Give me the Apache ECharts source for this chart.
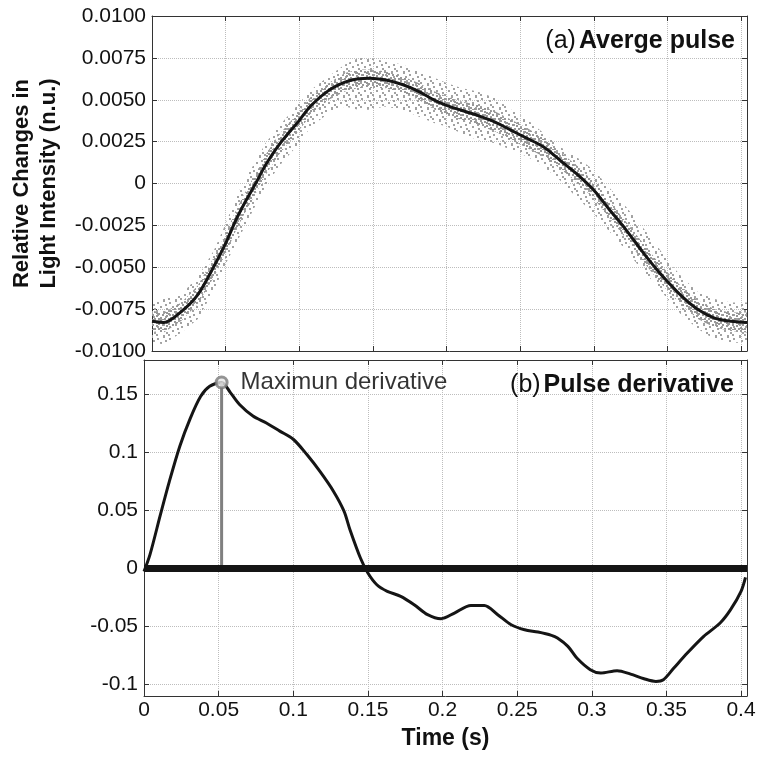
<!DOCTYPE html>
<html><head><meta charset="utf-8">
<script src="https://cdn.jsdelivr.net/npm/echarts@6/dist/echarts.min.js"></script>
<style>html,body{margin:0;padding:0;background:#fff}#c{width:762px;height:757px}</style>
</head><body><div id="c"></div>
<script>
// ---- data ----
const timeTicks = [0, 0.05, 0.1, 0.15, 0.2, 0.25, 0.3, 0.35, 0.4];
const derivTicks = [-0.1, -0.05, 0, 0.05, 0.1, 0.15];

const pulseT = [0, 0.008, 0.02, 0.031, 0.042, 0.05, 0.057, 0.064, 0.071, 0.077, 0.086, 0.1, 0.108, 0.12, 0.131, 0.14, 0.148, 0.158, 0.17, 0.181, 0.192, 0.2, 0.21, 0.221, 0.233, 0.244, 0.255, 0.266, 0.277, 0.288, 0.3, 0.31, 0.322, 0.333, 0.342, 0.35, 0.36, 0.371, 0.382, 0.393, 0.404];
const pulseMean = [-0.00823, -0.0083, -0.00764, -0.00665, -0.00496, -0.00357, -0.00218, -0.00099, 0.0001, 0.00109, 0.00228, 0.00377, 0.00466, 0.00556, 0.00605, 0.00625, 0.00629, 0.00619, 0.00591, 0.0055, 0.00496, 0.00466, 0.00437, 0.00407, 0.00367, 0.00317, 0.00268, 0.00218, 0.00139, 0.0006, -0.0004, -0.00149, -0.00278, -0.00407, -0.00506, -0.00585, -0.00675, -0.00754, -0.00804, -0.00823, -0.0083];
// scatter cloud of raw samples: outer edges and dense core edges
const cloudHi = [-0.0071, -0.0069, -0.0066, -0.0056, -0.004, -0.0024, -0.0008, 0.0004, 0.0014, 0.0024, 0.0034, 0.0048, 0.0056, 0.0064, 0.0071, 0.0075, 0.0075, 0.0073, 0.0071, 0.0067, 0.0063, 0.006, 0.0057, 0.0055, 0.0051, 0.0044, 0.0038, 0.003, 0.0022, 0.0016, 0.0008, -0.0002, -0.0014, -0.0026, -0.0036, -0.0046, -0.0056, -0.0065, -0.0069, -0.0071, -0.0071];
const cloudLo = [-0.0095, -0.0096, -0.0089, -0.0081, -0.0064, -0.0048, -0.0036, -0.0024, -0.0012, -0.0002, 0.001, 0.0024, 0.0034, 0.0042, 0.0046, 0.0044, 0.0044, 0.0046, 0.0044, 0.004, 0.0036, 0.0034, 0.003, 0.0026, 0.0024, 0.002, 0.0016, 0.001, 0.0002, -0.0008, -0.0018, -0.0028, -0.004, -0.0052, -0.006, -0.0069, -0.0079, -0.0087, -0.0093, -0.0095, -0.0095];
const coreHi = [-0.0076, -0.0077, -0.0071, -0.0061, -0.0044, -0.003, -0.0016, -0.0004, 0.0007, 0.0017, 0.0029, 0.0043, 0.0052, 0.006, 0.0066, 0.0068, 0.0068, 0.0067, 0.0064, 0.006, 0.0055, 0.0052, 0.0049, 0.0047, 0.0043, 0.0038, 0.0033, 0.0027, 0.0019, 0.0011, 0.0001, -0.001, -0.0023, -0.0035, -0.0045, -0.0053, -0.0062, -0.007, -0.0075, -0.0077, -0.0077];
const coreLo = [-0.0088, -0.0089, -0.0082, -0.0072, -0.0056, -0.0042, -0.0028, -0.0016, -0.0005, 0.0005, 0.0017, 0.0032, 0.0041, 0.005, 0.0055, 0.0057, 0.0057, 0.0057, 0.0054, 0.005, 0.0044, 0.0041, 0.0038, 0.0035, 0.0031, 0.0026, 0.0021, 0.0016, 0.0009, 0.0001, -0.0009, -0.002, -0.0033, -0.0046, -0.0056, -0.0064, -0.0073, -0.0081, -0.0086, -0.0088, -0.0089];

const derivT = [0, 0.004, 0.011, 0.017, 0.024, 0.031, 0.038, 0.044, 0.052, 0.058, 0.064, 0.073, 0.082, 0.091, 0.1, 0.109, 0.118, 0.127, 0.134, 0.138, 0.145, 0.15, 0.156, 0.163, 0.172, 0.181, 0.19, 0.199, 0.208, 0.219, 0.228, 0.237, 0.246, 0.255, 0.264, 0.273, 0.277, 0.284, 0.29, 0.299, 0.306, 0.317, 0.326, 0.335, 0.343, 0.348, 0.355, 0.364, 0.375, 0.386, 0.393, 0.4, 0.403];
const derivV = [-0.003, 0.0115, 0.046, 0.0747, 0.105, 0.129, 0.148, 0.1566, 0.16, 0.151, 0.141, 0.131, 0.125, 0.118, 0.111, 0.098, 0.083, 0.066, 0.049, 0.033, 0.0086, -0.0043, -0.0144, -0.0201, -0.0244, -0.0316, -0.0402, -0.0437, -0.0388, -0.0322, -0.0322, -0.0402, -0.0489, -0.0532, -0.0552, -0.058, -0.0603, -0.0675, -0.0776, -0.0876, -0.0905, -0.0885, -0.0914, -0.0954, -0.0977, -0.0963, -0.0862, -0.0733, -0.0589, -0.0474, -0.0359, -0.0201, -0.008];

const maxPointT = 0.052;
const maxPointV = 0.16;

const pulseTitle = ['(a)', 'Averge pulse'];
const derivTitle = ['(b)', 'Pulse derivative'];
const maxLabel = 'Maximun derivative';
const yName = 'Relative Changes in\nLight Intensity (n.u.)';
const xName = 'Time (s)';

// ---- chart ----
const FONT = '"Liberation Sans", Arial, Helvetica, sans-serif';
const INK = '#111';
const X_MAX = 0.404;

// dotted texture used to paint the sample cloud (style only)
function dotTile(size, dots, color) {
  const c = document.createElement('canvas');
  c.width = size; c.height = size;
  const g = c.getContext('2d');
  g.fillStyle = color;
  dots.forEach(d => g.fillRect(d[0], d[1], 2, 2));
  return { image: c, repeat: 'repeat' };
}
const outerFill = dotTile(12, [[1, 2], [7, 0], [4, 6], [10, 8], [0, 10], [7, 11], [9, 4]], '#a2a2a2');
const coreFill = dotTile(10, [[0, 0], [4, 1], [8, 3], [2, 4], [6, 5], [0, 7], [4, 8], [8, 8], [2, 9], [6, 2]], '#979797');

function xAxis(gridIndex, position, main) {
  return {
    type: 'value', gridIndex, position, min: 0, max: X_MAX,
    axisLine: { show: true, onZero: false, lineStyle: { color: '#333', width: 1 } },
    axisTick: { show: true, inside: true, length: 5, customValues: timeTicks, lineStyle: { color: '#333' } },
    axisLabel: main ? { show: true, customValues: timeTicks, fontFamily: FONT, fontSize: 21, color: INK, margin: 4,
      formatter: v => String(v) } : { show: false, customValues: timeTicks },
    splitLine: { show: position === 'bottom', lineStyle: { color: '#bdbdbd', type: 'dotted', width: 1 } },
    name: main ? xName : '', nameLocation: 'middle', nameGap: 31,
    nameTextStyle: { fontFamily: FONT, fontSize: 23, fontWeight: 'bold', color: INK }
  };
}

function bandSeries(hi, lo, fill, z) {
  return {
    type: 'custom', xAxisIndex: 0, yAxisIndex: 0, z, silent: true, clip: true,
    data: [0],
    renderItem(params, api) {
      const pts = [];
      for (let i = 0; i < pulseT.length; i++) pts.push(api.coord([pulseT[i], hi[i]]));
      for (let i = pulseT.length - 1; i >= 0; i--) pts.push(api.coord([pulseT[i], lo[i]]));
      return { type: 'polygon', shape: { points: pts }, style: { fill } };
    }
  };
}

function titleText(parts, x, y) {
  return {
    type: 'text', x, y, z: 100,
    style: {
      text: '{a|' + parts[0] + '}{b|' + parts[1] + '}',
      align: 'right', verticalAlign: 'middle', fill: INK,
      font: '25px ' + FONT,
      rich: {
        a: { fontFamily: FONT, fontSize: 25, fontWeight: 'normal', fill: INK },
        b: { fontFamily: FONT, fontSize: 25, fontWeight: 'bold', fill: INK, padding: [0, 0, 0, 3] }
      }
    }
  };
}

const option = {
  animation: false,
  backgroundColor: '#fff',
  grid: [
    { left: 144, top: 16, width: 603, height: 335 },
    { left: 144, top: 360, width: 603, height: 336 }
  ],
  xAxis: [
    xAxis(0, 'bottom', false),
    xAxis(0, 'top', false),
    xAxis(1, 'bottom', true),
    xAxis(1, 'top', false)
  ],
  yAxis: [
    { type: 'value', gridIndex: 0, position: 'left', min: -0.01, max: 0.01, interval: 0.0025,
      axisLine: { show: true, onZero: false, lineStyle: { color: '#333' } },
      axisTick: { show: true, inside: true, length: 5, lineStyle: { color: '#333' } },
      axisLabel: { fontFamily: FONT, fontSize: 21, color: INK, margin: 6,
        formatter: v => Math.abs(v) < 1e-9 ? '0' : v.toFixed(4) },
      splitLine: { show: true, lineStyle: { color: '#bdbdbd', type: 'dotted', width: 1 } },
      name: yName, nameLocation: 'middle', nameRotate: 90, nameGap: 90,
      nameTextStyle: { fontFamily: FONT, fontSize: 22, fontWeight: 'bold', color: INK, lineHeight: 27, align: 'center' } },
    { type: 'value', gridIndex: 0, position: 'right', min: -0.01, max: 0.01, interval: 0.0025,
      axisLine: { show: true, onZero: false, lineStyle: { color: '#333' } },
      axisTick: { show: true, inside: true, length: 5, lineStyle: { color: '#333' } },
      axisLabel: { show: false }, splitLine: { show: false } },
    { type: 'value', gridIndex: 1, position: 'left', min: -0.1103, max: 0.1793,
      axisLine: { show: true, onZero: false, lineStyle: { color: '#333' } },
      axisTick: { show: true, inside: true, length: 5, customValues: derivTicks, lineStyle: { color: '#333' } },
      axisLabel: { customValues: derivTicks, fontFamily: FONT, fontSize: 21, color: INK, margin: 6,
        formatter: v => String(v) },
      splitLine: { show: true, lineStyle: { color: '#bdbdbd', type: 'dotted', width: 1 } } },
    { type: 'value', gridIndex: 1, position: 'right', min: -0.1103, max: 0.1793,
      axisLine: { show: true, onZero: false, lineStyle: { color: '#333' } },
      axisTick: { show: true, inside: true, length: 5, customValues: derivTicks, lineStyle: { color: '#333' } },
      axisLabel: { show: false, customValues: derivTicks }, splitLine: { show: false } }
  ],
  series: [
    bandSeries(cloudHi, cloudLo, outerFill, 1),
    bandSeries(coreHi, coreLo, coreFill, 2),
    { type: 'line', xAxisIndex: 0, yAxisIndex: 0, z: 3, smooth: 0.3, showSymbol: false, symbol: 'none',
      data: pulseT.map((t, i) => [t, pulseMean[i]]),
      lineStyle: { color: '#151515', width: 3 } },
    { type: 'line', xAxisIndex: 2, yAxisIndex: 2, z: 3, smooth: 0.3, showSymbol: false, symbol: 'none',
      data: derivT.map((t, i) => [t, derivV[i]]),
      lineStyle: { color: '#151515', width: 3 },
      markLine: { silent: true, symbol: 'none', label: { show: false },
        lineStyle: { color: '#151515', width: 7, type: 'solid' }, data: [{ yAxis: 0 }] } },
    { type: 'line', xAxisIndex: 2, yAxisIndex: 2, z: 4, showSymbol: false, symbol: 'none',
      data: [[maxPointT, 0], [maxPointT, maxPointV]],
      lineStyle: { color: '#808080', width: 3 } },
    { type: 'scatter', xAxisIndex: 2, yAxisIndex: 2, z: 5,
      data: [[maxPointT, maxPointV]], symbol: 'circle', symbolSize: 11,
      itemStyle: { color: '#e6e6e6', borderColor: '#7a7a7a', borderWidth: 3 },
      label: { show: true, position: 'right', distance: 12, formatter: maxLabel,
        fontFamily: FONT, fontSize: 24, fontWeight: 'normal', color: '#000' } }
  ],
  graphic: [
    titleText(pulseTitle, 735, 41),
    titleText(derivTitle, 734, 385)
  ]
};

const chart = echarts.init(document.getElementById('c'), null, { renderer: 'canvas' });
chart.setOption(option);
</script>
</body></html>
